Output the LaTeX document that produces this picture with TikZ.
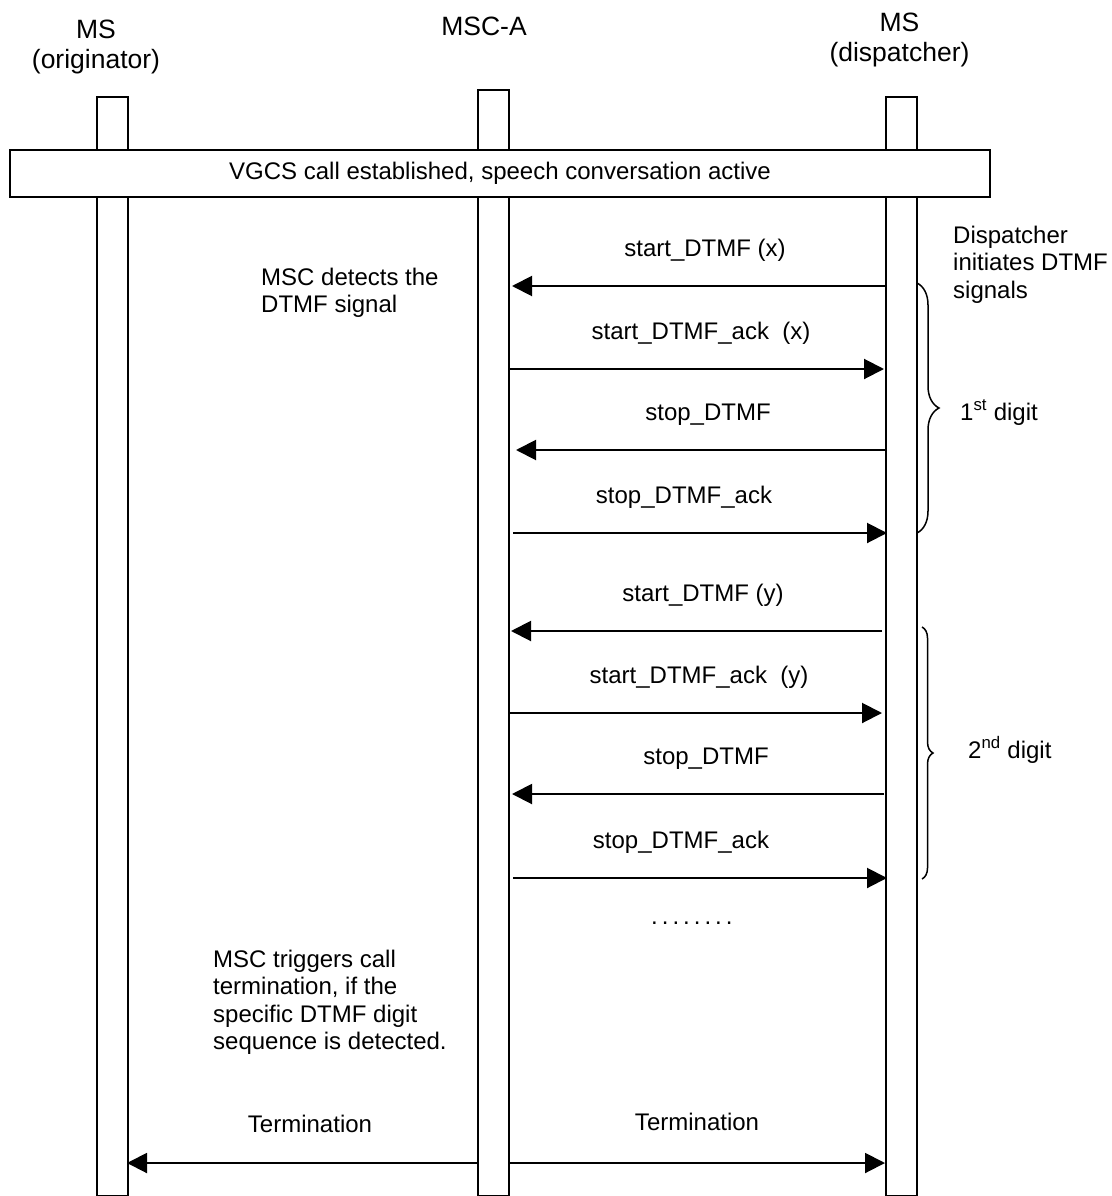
\documentclass[tikz,border=0pt]{standalone}
\usepackage{fontspec}
\setmainfont{Liberation Sans}
\usetikzlibrary{arrows.meta,decorations.pathreplacing}
\newcommand\bodyfont{\fontsize{24}{27.5}\selectfont}
\newcommand\headfont{\fontsize{26.5}{30.5}\selectfont}
\newcommand\mlines[2][l]{\begin{tabular}[t]{@{}#1@{}}#2\end{tabular}}
\begin{document}
\begin{tikzpicture}[x=1pt,y=-1pt,
  life/.style={draw, line width=2pt, fill=white, inner sep=0pt, anchor=north west, minimum width=31pt},
  msg/.style={line width=2pt, -{Triangle[length=20pt,width=20pt]}},
  lbl/.style={anchor=base, inner sep=0pt, font=\bodyfont},
  note/.style={anchor=base west, inner sep=0pt, font=\bodyfont},
  head/.style={anchor=base, inner sep=0pt, font=\headfont},
  brc/.style={decorate, line width=1.5pt}
]
\useasboundingbox (0,0) rectangle (1111,1196);
\fill[white] (0,0) rectangle (1111,1196);

% headers
\node[head] (hL) at (96,38.5) {\mlines[c]{MS\\(originator)}};
\node[head] (hM) at (484,36) {MSC-A};
\node[head] (hR) at (899.5,31.3) {\mlines[c]{MS\\(dispatcher)}};

% lifelines
\node[life, minimum height=1099pt] (barL) at (96,96) {};
\node[life, minimum height=1106pt] (barM) at (477,89) {};
\node[life, minimum height=1099pt] (barR) at (885,96) {};
\draw[white, line width=1pt] (476.2,253) -- (476.2,362);

% established box
\node[draw, fill=white, line width=2pt, inner sep=0pt, anchor=north west,
      minimum width=980pt, minimum height=47pt, font=\bodyfont] (est) at (9,149)
  {VGCS call established, speech conversation active};

% notes
\node[note] (nDet) at (261,285) {\mlines{MSC detects the\\DTMF signal}};
\node[note] (nDisp) at (953,243) {\mlines{Dispatcher\\initiates DTMF\\signals}};
\node[note] (nTrig) at (213,967) {\mlines{MSC triggers call\\termination, if the\\specific DTMF digit\\sequence is detected.}};

% coordinates
\coordinate (a1) at (885,286); \coordinate (b1) at (512,286);
\coordinate (a2) at (509,369); \coordinate (b2) at (884,369);
\coordinate (a3) at (887,450); \coordinate (b3) at (516,450);
\coordinate (a4) at (513,533); \coordinate (b4) at (887,533);
\coordinate (a5) at (882,631); \coordinate (b5) at (511,631);
\coordinate (a6) at (509,713); \coordinate (b6) at (882,713);
\coordinate (a7) at (884,794); \coordinate (b7) at (512,794);
\coordinate (a8) at (513,878); \coordinate (b8) at (887,878);
\coordinate (a9) at (477,1163); \coordinate (b9) at (127,1163);
\coordinate (a10) at (508,1163); \coordinate (b10) at (885,1163);

% messages
\draw[msg] (a1) -- (b1);
\draw[msg] (a2) -- (b2);
\draw[msg] (a3) -- (b3);
\draw[msg] (a4) -- (b4);
\draw[msg] (a5) -- (b5);
\draw[msg] (a6) -- (b6);
\draw[msg] (a7) -- (b7);
\draw[msg] (a8) -- (b8);
\draw[msg] (a9) -- (b9);
\draw[msg] (a10) -- (b10);

\node[lbl] (l1) at (705,256) {start\_DTMF (x)};
\node[lbl] (l2) at (701,339) {start\_DTMF\_ack\ \ (x)};
\node[lbl] (l3) at (708,420) {stop\_DTMF};
\node[lbl] (l4) at (684,503) {stop\_DTMF\_ack};
\node[lbl] (l5) at (703,601) {start\_DTMF (y)};
\node[lbl] (l6) at (699,683) {start\_DTMF\_ack\ \ (y)};
\node[lbl] (l7) at (706,764) {stop\_DTMF};
\node[lbl] (l8) at (681,848) {stop\_DTMF\_ack};
\node[lbl] (l9) at (310,1132) {Termination};
\node[lbl] (l10) at (697,1130) {Termination};

% dots
\node[note] (dots) at (651,924.5) {.\kern4pt.\kern4pt.\kern4pt.\kern4pt.\kern4pt.\kern4pt.\kern4pt.};

% braces
\coordinate (br1t) at (917,283); \coordinate (br1b) at (917,533);
\coordinate (br2t) at (922,627); \coordinate (br2b) at (922,879);
\draw[brc, decoration={brace, amplitude=22pt}] (br1t) -- (br1b);
\draw[brc, decoration={brace, amplitude=11pt}] (br2t) -- (br2b);
\node[note] (d1) at (960,420) {1\textsuperscript{st} digit};
\node[note] (d2) at (968,758) {2\textsuperscript{nd} digit};
\end{tikzpicture}
\end{document}
